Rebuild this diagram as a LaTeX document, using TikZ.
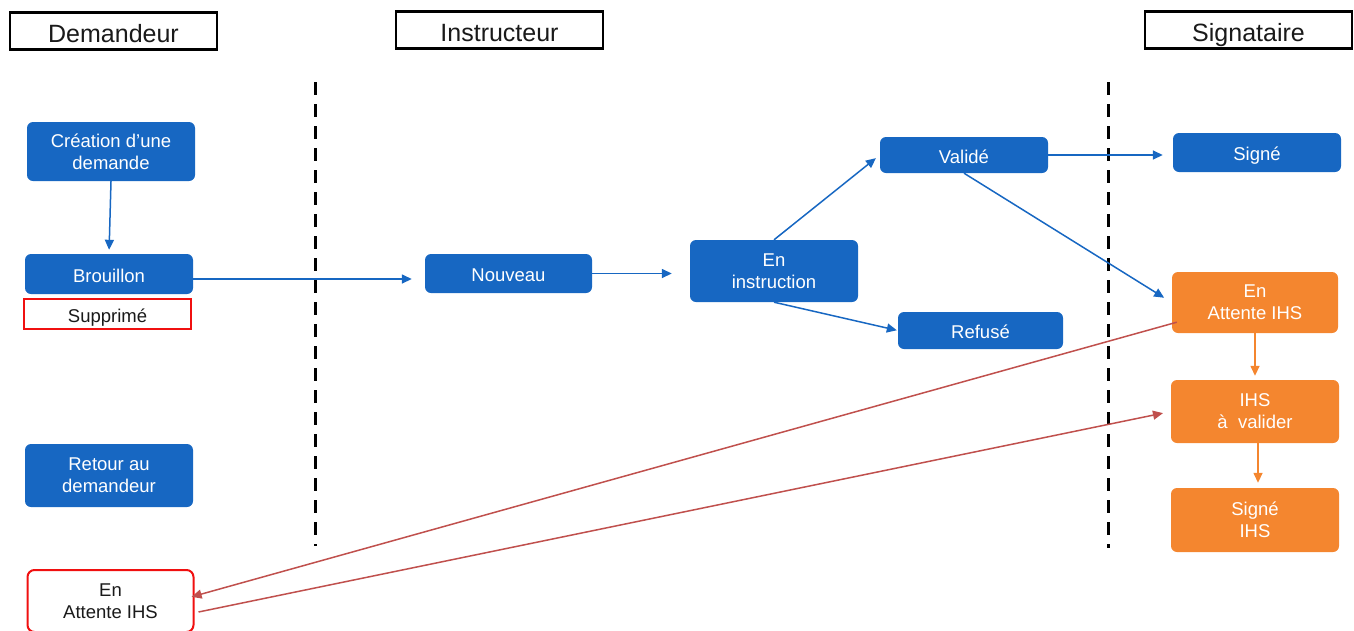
\documentclass[tikz,border=0pt]{standalone}
\usepackage{fontspec}
\setmainfont{Liberation Sans}
\usetikzlibrary{arrows.meta,calc}
\definecolor{bbox}{HTML}{1767C2}
\definecolor{obox}{HTML}{F4862F}
\definecolor{rline}{HTML}{C0504D}
\definecolor{rbord}{HTML}{F01010}
\definecolor{tdark}{HTML}{1A1A1A}
\tikzset{
  hdr/.style={draw=black,line width=2.6pt,fill=white,minimum width=207pt,minimum height=37pt,inner sep=0pt,text height=22pt,text depth=0pt,font=\fontsize{25}{28}\selectfont,text=tdark},
  oneline/.style={text height=16pt,text depth=0pt},
  bluebox/.style={fill=bbox,rounded corners=6pt,text=white,align=center,inner sep=0pt,font=\fontsize{18.5}{22}\selectfont},
  orangebox/.style={fill=obox,rounded corners=6pt,text=white,align=center,inner sep=0pt,font=\fontsize{18.5}{22}\selectfont},
  redbox/.style={draw=rbord,line width=2pt,fill=white,text=tdark,align=center,inner sep=0pt,font=\fontsize{18.5}{22}\selectfont},
  sep/.style={line width=3pt,dash pattern=on 13pt off 9pt},
  barrow/.style={draw=bbox,line width=1.5pt,-{Triangle[length=10pt,width=9pt]}},
  oarrow/.style={draw=obox,line width=1.5pt,-{Triangle[length=10pt,width=9pt]}},
  rarrow/.style={draw=rline,line width=1.5pt,-{Triangle[length=10pt,width=9pt]}},
}
\begin{document}
\begin{tikzpicture}[x=1pt,y=-1pt]
\useasboundingbox (0,0) rectangle (1354,630);
% headers
\node[hdr] (hdem) at (113.5,31) {Demandeur};
\node[hdr] (hins) at (499.5,30) {Instructeur};
\node[hdr] (hsig) at (1248.5,30) {Signataire};
% separators
\coordinate (s1t) at (315,82);
\coordinate (s1b) at (315,546);
\coordinate (s2t) at (1108,82);
\coordinate (s2b) at (1108,548);
\draw[sep] (s1t) -- (s1b);
\draw[sep] (s2t) -- (s2b);
% Demandeur column
\node[bluebox,minimum width=168pt,minimum height=59pt] (crea) at (111,151.5) {Création d’une\\demande};
\node[bluebox,oneline,minimum width=168pt,minimum height=40pt] (brou) at (109,274) {Brouillon};
\node[redbox,oneline,rounded corners=0pt,minimum width=167pt,minimum height=30pt] (supp) at (107.5,314) {Supprimé};
\node[bluebox,minimum width=168pt,minimum height=63pt] (retour) at (109,475.5) {Retour au\\demandeur};
\node[redbox,rounded corners=7pt,minimum width=166pt,minimum height=62pt] (attD) at (110.5,601) {En\\Attente IHS};
% Instructeur column
\node[bluebox,oneline,minimum width=167pt,minimum height=39pt] (nouv) at (508.5,273.5) {Nouveau};
\node[bluebox,minimum width=168pt,minimum height=62pt] (instr) at (774,271) {En\\instruction};
\node[bluebox,oneline,minimum width=168pt,minimum height=36pt] (valide) at (964,155) {Validé};
\node[bluebox,oneline,minimum width=165pt,minimum height=37pt] (refuse) at (980.5,330.5) {Refusé};
% Signataire column
\node[bluebox,oneline,minimum width=168pt,minimum height=39pt] (signe) at (1257,152.5) {Signé};
\node[orangebox,minimum width=166pt,minimum height=61pt] (attS) at (1255,302.5) {En\\Attente IHS};
\node[orangebox,minimum width=168pt,minimum height=63pt] (ihsv) at (1255,411.5) {IHS\\à\ \ valider};
\node[orangebox,minimum width=168pt,minimum height=64pt] (signeihs) at (1255,520) {Signé\\IHS};
% blue arrows
\draw[barrow,shorten >=4pt] (crea.south) -- (brou.north);
\draw[barrow,shorten >=13pt] ([yshift=-5pt]brou.east) -- ([yshift=-5pt]brou.east -| nouv.west);
\draw[barrow,shorten >=18pt] (nouv.east) -- (nouv.east -| instr.west);
\draw[barrow,shorten >=5pt] (instr.north) -- (valide.west);
\draw[barrow,shorten >=1pt] (instr.south) -- (refuse.west);
\draw[barrow,shorten >=10pt] (valide.east) -- (valide.east -| signe.west);
\draw[barrow,shorten >=9pt] (valide.south) -- (attS.west);
% orange arrows
\draw[oarrow,shorten >=4pt] (attS.south) -- (ihsv.north);
\draw[oarrow,shorten >=5pt] ([xshift=3pt]ihsv.south) -- ([xshift=3pt]signeihs.north);
% red arrows
\draw[rarrow,shorten >=-3pt] ($(attS.south west)+(5,-11)$) -- ($(attD.east)+(0,-5)$);
\draw[rarrow,shorten >=8pt] ($(attD.east)+(4,11)$) -- (ihsv.west);
\end{tikzpicture}
\end{document}
